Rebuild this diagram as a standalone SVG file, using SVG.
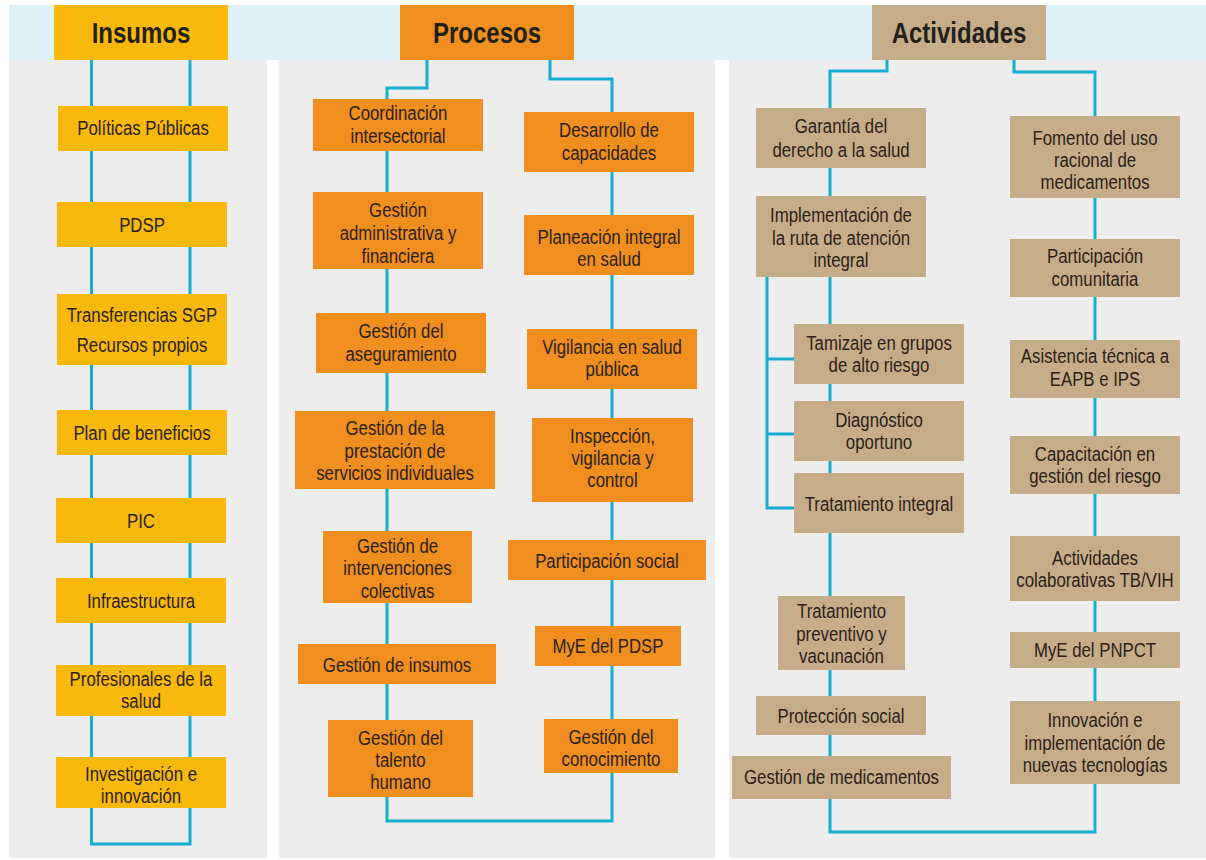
<svg xmlns="http://www.w3.org/2000/svg" width="1206" height="860" viewBox="0 0 1206 860">
<style>
.band{fill:#DEF1F7}
.panel{fill:#EDEDED}
.ins{fill:#F9B90C}
.pro{fill:#F08E20}
.act{fill:#C6AD89}
.t{font-family:"Liberation Sans",Arial,sans-serif;font-size:21px;fill:#2B2218;text-anchor:middle}
.h{font-family:"Liberation Sans",Arial,sans-serif;font-size:30px;font-weight:bold;fill:#231F1A;text-anchor:middle}
.c{fill:none;stroke:#17AED4;stroke-width:3}
</style>
<rect width="1206" height="860" fill="#FFFFFF"/>
<rect class="band" x="9" y="5" width="1197" height="55"/>
<rect class="panel" x="9" y="60" width="258" height="798"/>
<rect class="panel" x="279" y="60" width="436" height="798"/>
<rect class="panel" x="729" y="60" width="477" height="798"/>

<g id="connectors">
<path class="c" d="M91.5,60 V844 H190 V60"/>
<path class="c" d="M427,60 V88 H387 V821 H612 V79 H550 V60"/>
<path class="c" d="M887,60 V71 H830 V832 H1095 V72 H1014 V60"/>
<path class="c" d="M767,277 V508 H794 M767,359 H794 M767,434 H794"/>
</g>

<g id="h-insumos"><rect class="ins" x="54" y="5" width="174" height="55"/><text class="h" transform="matrix(.8 0 0 1 141 0)" y="43">Insumos</text></g>
<g id="h-procesos"><rect class="pro" x="400" y="5" width="174" height="55"/><text class="h" transform="matrix(.8 0 0 1 487 0)" y="43">Procesos</text></g>
<g id="h-actividades"><rect class="act" x="872" y="5" width="174" height="55"/><text class="h" transform="matrix(.8 0 0 1 959 0)" y="43">Actividades</text></g>

<g id="i1"><rect class="ins" x="58" y="106" width="170" height="45"/><text class="t" transform="matrix(.8 0 0 1 143 0)" y="135">Políticas Públicas</text></g>
<g id="i2"><rect class="ins" x="57" y="202" width="170" height="45"/><text class="t" transform="matrix(.8 0 0 1 142 0)" y="232">PDSP</text></g>
<g id="i3"><rect class="ins" x="57" y="294" width="170" height="71"/><text class="t" transform="matrix(.8 0 0 1 142 0)" y="322">Transferencias SGP</text><text class="t" transform="matrix(.8 0 0 1 142 0)" y="352">Recursos propios</text></g>
<g id="i4"><rect class="ins" x="57" y="410" width="170" height="45"/><text class="t" transform="matrix(.8 0 0 1 142 0)" y="440">Plan de beneficios</text></g>
<g id="i5"><rect class="ins" x="56" y="498" width="170" height="45"/><text class="t" transform="matrix(.8 0 0 1 141 0)" y="528">PIC</text></g>
<g id="i6"><rect class="ins" x="56" y="578" width="170" height="45"/><text class="t" transform="matrix(.8 0 0 1 141 0)" y="608">Infraestructura</text></g>
<g id="i7"><rect class="ins" x="56" y="665" width="170" height="51"/><text class="t" transform="matrix(.8 0 0 1 141 0)" y="686">Profesionales de la</text><text class="t" transform="matrix(.8 0 0 1 141 0)" y="708">salud</text></g>
<g id="i8"><rect class="ins" x="56" y="757" width="170" height="51"/><text class="t" transform="matrix(.8 0 0 1 141 0)" y="781">Investigación e</text><text class="t" transform="matrix(.8 0 0 1 141 0)" y="803">innovación</text></g>

<g id="p1"><rect class="pro" x="313" y="99" width="170" height="52"/><text class="t" transform="matrix(.8 0 0 1 398 0)" y="120">Coordinación</text><text class="t" transform="matrix(.8 0 0 1 398 0)" y="143">intersectorial</text></g>
<g id="p2"><rect class="pro" x="313" y="192" width="170" height="77"/><text class="t" transform="matrix(.8 0 0 1 398 0)" y="217">Gestión</text><text class="t" transform="matrix(.8 0 0 1 398 0)" y="240">administrativa y</text><text class="t" transform="matrix(.8 0 0 1 398 0)" y="263">financiera</text></g>
<g id="p3"><rect class="pro" x="316" y="313" width="170" height="60"/><text class="t" transform="matrix(.8 0 0 1 401 0)" y="338">Gestión del</text><text class="t" transform="matrix(.8 0 0 1 401 0)" y="361">aseguramiento</text></g>
<g id="p4"><rect class="pro" x="295" y="411" width="200" height="78"/><text class="t" transform="matrix(.8 0 0 1 395 0)" y="435">Gestión de la</text><text class="t" transform="matrix(.8 0 0 1 395 0)" y="458">prestación de</text><text class="t" transform="matrix(.8 0 0 1 395 0)" y="480">servicios individuales</text></g>
<g id="p5"><rect class="pro" x="323" y="531" width="149" height="72"/><text class="t" transform="matrix(.8 0 0 1 397.5 0)" y="553">Gestión de</text><text class="t" transform="matrix(.8 0 0 1 397.5 0)" y="575">intervenciones</text><text class="t" transform="matrix(.8 0 0 1 397.5 0)" y="598">colectivas</text></g>
<g id="p6"><rect class="pro" x="298" y="644" width="198" height="40"/><text class="t" transform="matrix(.8 0 0 1 397 0)" y="672">Gestión de insumos</text></g>
<g id="p7"><rect class="pro" x="328" y="720" width="145" height="77"/><text class="t" transform="matrix(.8 0 0 1 400.5 0)" y="745">Gestión del</text><text class="t" transform="matrix(.8 0 0 1 400.5 0)" y="767">talento</text><text class="t" transform="matrix(.8 0 0 1 400.5 0)" y="789">humano</text></g>

<g id="p8"><rect class="pro" x="524" y="112" width="170" height="60"/><text class="t" transform="matrix(.8 0 0 1 609 0)" y="137">Desarrollo de</text><text class="t" transform="matrix(.8 0 0 1 609 0)" y="160">capacidades</text></g>
<g id="p9"><rect class="pro" x="524" y="215" width="170" height="60"/><text class="t" transform="matrix(.8 0 0 1 609 0)" y="244">Planeación integral</text><text class="t" transform="matrix(.8 0 0 1 609 0)" y="266">en salud</text></g>
<g id="p10"><rect class="pro" x="527" y="329" width="170" height="60"/><text class="t" transform="matrix(.8 0 0 1 612 0)" y="354">Vigilancia en salud</text><text class="t" transform="matrix(.8 0 0 1 612 0)" y="376">pública</text></g>
<g id="p11"><rect class="pro" x="532" y="418" width="161" height="84"/><text class="t" transform="matrix(.8 0 0 1 612.5 0)" y="443">Inspección,</text><text class="t" transform="matrix(.8 0 0 1 612.5 0)" y="465">vigilancia y</text><text class="t" transform="matrix(.8 0 0 1 612.5 0)" y="487">control</text></g>
<g id="p12"><rect class="pro" x="508" y="540" width="198" height="40"/><text class="t" transform="matrix(.8 0 0 1 607 0)" y="568">Participación social</text></g>
<g id="p13"><rect class="pro" x="535" y="626" width="146" height="40"/><text class="t" transform="matrix(.8 0 0 1 608 0)" y="653">MyE del PDSP</text></g>
<g id="p14"><rect class="pro" x="544" y="719" width="134" height="54"/><text class="t" transform="matrix(.8 0 0 1 611 0)" y="744">Gestión del</text><text class="t" transform="matrix(.8 0 0 1 611 0)" y="766">conocimiento</text></g>

<g id="a1"><rect class="act" x="756" y="108" width="170" height="60"/><text class="t" transform="matrix(.8 0 0 1 841 0)" y="133">Garantía del</text><text class="t" transform="matrix(.8 0 0 1 841 0)" y="157">derecho a la salud</text></g>
<g id="a2"><rect class="act" x="756" y="196" width="170" height="81"/><text class="t" transform="matrix(.8 0 0 1 841 0)" y="222">Implementación de</text><text class="t" transform="matrix(.8 0 0 1 841 0)" y="245">la ruta de atención</text><text class="t" transform="matrix(.8 0 0 1 841 0)" y="267">integral</text></g>
<g id="a3"><rect class="act" x="794" y="324" width="170" height="60"/><text class="t" transform="matrix(.8 0 0 1 879 0)" y="350">Tamizaje en grupos</text><text class="t" transform="matrix(.8 0 0 1 879 0)" y="372">de alto riesgo</text></g>
<g id="a4"><rect class="act" x="794" y="401" width="170" height="60"/><text class="t" transform="matrix(.8 0 0 1 879 0)" y="427">Diagnóstico</text><text class="t" transform="matrix(.8 0 0 1 879 0)" y="449">oportuno</text></g>
<g id="a5"><rect class="act" x="794" y="473" width="170" height="60"/><text class="t" transform="matrix(.8 0 0 1 879 0)" y="511">Tratamiento integral</text></g>
<g id="a6"><rect class="act" x="778" y="596" width="127" height="74"/><text class="t" transform="matrix(.8 0 0 1 841.5 0)" y="618">Tratamiento</text><text class="t" transform="matrix(.8 0 0 1 841.5 0)" y="641">preventivo y</text><text class="t" transform="matrix(.8 0 0 1 841.5 0)" y="663">vacunación</text></g>
<g id="a7"><rect class="act" x="756" y="696" width="170" height="39"/><text class="t" transform="matrix(.8 0 0 1 841 0)" y="723">Protección social</text></g>
<g id="a8"><rect class="act" x="732" y="756" width="219" height="43"/><text class="t" transform="matrix(.8 0 0 1 841.5 0)" y="784">Gestión de medicamentos</text></g>

<g id="a9"><rect class="act" x="1010" y="116" width="170" height="82"/><text class="t" transform="matrix(.8 0 0 1 1095 0)" y="145">Fomento del uso</text><text class="t" transform="matrix(.8 0 0 1 1095 0)" y="167">racional de</text><text class="t" transform="matrix(.8 0 0 1 1095 0)" y="189">medicamentos</text></g>
<g id="a10"><rect class="act" x="1010" y="239" width="170" height="58"/><text class="t" transform="matrix(.8 0 0 1 1095 0)" y="263">Participación</text><text class="t" transform="matrix(.8 0 0 1 1095 0)" y="286">comunitaria</text></g>
<g id="a11"><rect class="act" x="1010" y="340" width="170" height="58"/><text class="t" transform="matrix(.8 0 0 1 1095 0)" y="363">Asistencia técnica a</text><text class="t" transform="matrix(.8 0 0 1 1095 0)" y="386">EAPB e IPS</text></g>
<g id="a12"><rect class="act" x="1010" y="436" width="170" height="58"/><text class="t" transform="matrix(.8 0 0 1 1095 0)" y="461">Capacitación en</text><text class="t" transform="matrix(.8 0 0 1 1095 0)" y="483">gestión del riesgo</text></g>
<g id="a13"><rect class="act" x="1010" y="536" width="170" height="65"/><text class="t" transform="matrix(.8 0 0 1 1095 0)" y="565">Actividades</text><text class="t" transform="matrix(.8 0 0 1 1095 0)" y="587">colaborativas TB/VIH</text></g>
<g id="a14"><rect class="act" x="1010" y="632" width="170" height="36"/><text class="t" transform="matrix(.8 0 0 1 1095 0)" y="657">MyE del PNPCT</text></g>
<g id="a15"><rect class="act" x="1010" y="701" width="170" height="83"/><text class="t" transform="matrix(.8 0 0 1 1095 0)" y="727">Innovación e</text><text class="t" transform="matrix(.8 0 0 1 1095 0)" y="750">implementación de</text><text class="t" transform="matrix(.8 0 0 1 1095 0)" y="772">nuevas tecnologías</text></g>
</svg>
